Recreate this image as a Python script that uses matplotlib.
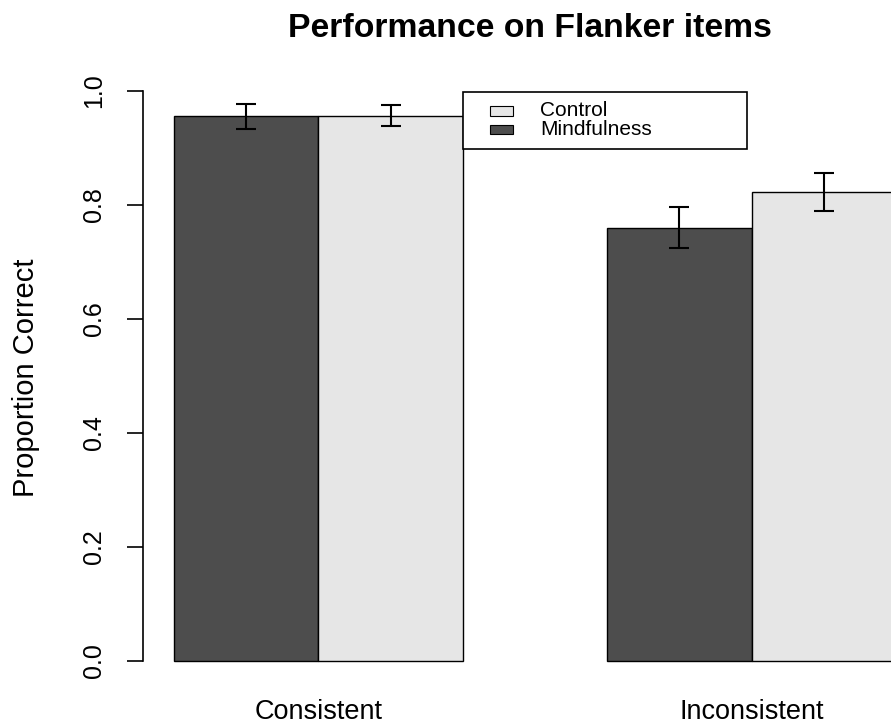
import matplotlib
matplotlib.use("Agg")
import matplotlib.pyplot as plt
from matplotlib.patches import Rectangle
import numpy as np

# Proportion correct on Flanker items, by condition and group
conditions = ["Consistent", "Inconsistent"]
groups = ["Mindfulness", "Control"]
mindfulness_mean = [0.956, 0.760]
control_mean = [0.957, 0.823]
mindfulness_err = [0.022, 0.036]
control_err = [0.019, 0.034]
yticks = [0.0, 0.2, 0.4, 0.6, 0.8, 1.0]

dark = "#4D4D4D"
light = "#E6E6E6"

plt.rcParams["font.family"] = ["Liberation Sans", "DejaVu Sans"]

W, H = 891, 726
fig = plt.figure(figsize=(W / 100, H / 100), dpi=100)

# axes placement in pixels
ax_left_px, ax_right_px = 143, 891
ax_top_px, ax_bot_px = 68.2, 683.8
ax = fig.add_axes([ax_left_px / W, (H - ax_bot_px) / H,
                   (ax_right_px - ax_left_px) / W, (ax_bot_px - ax_top_px) / H])

# side-by-side bars: width 1, one unit gap before each group
n_groups = len(conditions)
group_starts = 1 + 3 * np.arange(n_groups)
x_mind = group_starts + 0.5
x_ctrl = group_starts + 1.5
centers = group_starts + 1.0

ax.bar(x_mind, mindfulness_mean, width=1.0, color=dark, edgecolor="black", linewidth=1.0)
ax.bar(x_ctrl, control_mean, width=1.0, color=light, edgecolor="black", linewidth=1.0)

ax.errorbar(x_mind, mindfulness_mean, yerr=mindfulness_err, fmt="none",
            ecolor="black", elinewidth=1.5, capsize=7, capthick=1.5)
ax.errorbar(x_ctrl, control_mean, yerr=control_err, fmt="none",
            ecolor="black", elinewidth=1.5, capsize=7, capthick=1.5)

px_per_unit = 144.4
ax.set_xlim(1 - (174 - ax_left_px) / px_per_unit, 1 + (ax_right_px - 174) / px_per_unit)
ax.set_ylim(-0.04, 1.04)

for s in ["top", "right", "bottom"]:
    ax.spines[s].set_visible(False)
ax.spines["left"].set_bounds(0, 1)
ax.spines["left"].set_linewidth(1.2)

ax.set_yticks(yticks)
ax.set_yticklabels([f"{v:.1f}" for v in yticks], rotation=90, va="center")
ax.tick_params(axis="y", length=11.5, width=1.2, pad=15, labelsize=18, colors="black")
ax.tick_params(axis="x", length=0, pad=11, labelsize=19.5)
ax.set_xticks(centers)
ax.set_xticklabels(conditions)

ax.set_ylabel("Proportion Correct", fontsize=21, va="center")
ax.yaxis.set_label_coords(-0.156, 0.5 + (376 - 378) / (ax_bot_px - ax_top_px))

ax.set_title("Performance on Flanker items", fontsize=24.3, fontweight="bold",
             x=(530 - ax_left_px) / (ax_right_px - ax_left_px),
             y=1 + (ax_top_px - 37) / (ax_bot_px - ax_top_px), pad=0, va="baseline")

# legend box placed at the right edge of the first group
leg_x0, leg_x1 = 3.0, 4.97
leg_y0, leg_y1 = 0.898, 0.999
ax.add_patch(Rectangle((leg_x0, leg_y0), leg_x1 - leg_x0, leg_y1 - leg_y0,
                       facecolor="white", edgecolor="black", linewidth=1.2, zorder=5))
legend_items = [("Control", light, 0.965), ("Mindfulness", dark, 0.933)]
for label, col, yc in legend_items:
    ax.add_patch(Rectangle((3.19, yc - 0.008), 0.16, 0.016, facecolor=col,
                           edgecolor="black", linewidth=0.8, zorder=6))
    ax.text(3.535, yc, label, fontsize=15, va="center", ha="left", zorder=6)

fig.savefig("out.png", dpi=100)
